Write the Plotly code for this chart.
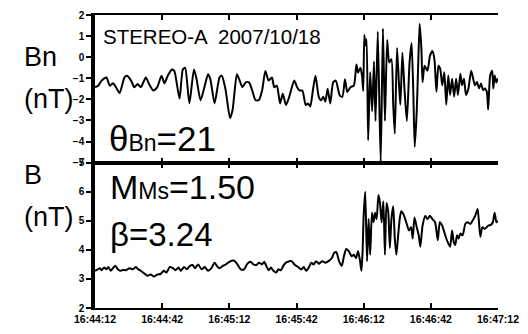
import pandas as pd
import plotly.graph_objects as go

# STEREO-A magnetometer, 2007-10-18, seconds after 16:44:12
t_bn = [0, 1.46, 2.93, 5.12, 6.59, 8.05, 9.07, 10.98, 13.17, 14.34, 16.1, 17.56, 19.03, 20.49,
        22.68, 24.15, 26.05, 27.8, 29.71, 31.03, 32.49, 34.39, 35.42, 37.76, 39.22, 40.25, 42.15,
        44.2, 45.37, 47.12, 49.03, 50.49, 51.51, 53.42, 55.61, 56.64, 58.25, 60.3, 61.45, 63.36,
        64.38, 65.85, 67.3, 68.77, 70.24, 71.7, 73.16, 74.63, 76.09, 77.55, 79.02, 80.04, 81.21,
        82.68, 83.85, 85.31, 86.77, 88.97, 90.28, 91.45, 92.63, 94.09, 95.12, 96.14, 97.31, 98.48,
        99.94, 100.97, 101.99, 102.87, 103.9, 105.07, 106.38, 107.56, 109.31, 110.48, 111.65,
        112.68, 114.14, 115.6, 116.77, 117.5, 118.53, 119.3, 119.8, 120.3, 120.8, 121.3, 122.0,
        122.9, 123.8, 124.6, 125.3, 126.3, 127.6, 128.6, 129.5, 130.5, 131.4, 132.4, 133.2,
        133.9, 134.9, 135.8, 136.4, 137.3, 138.3, 139.3, 140.5, 141.4, 142.2, 142.8, 143.7,
        144.3, 145.0, 145.8, 146.3, 147.2, 148.5, 149.6, 150.7, 151.6, 152.5, 153.4, 154.2,
        155.1, 156.0, 156.9, 157.8, 158.6, 159.5, 160.4, 161.3, 162.1, 163.2, 163.9, 164.8,
        165.7, 166.8, 168.0, 168.9, 169.7, 170.6, 171.5, 172.4, 173.3, 174.1, 175.0, 175.6,
        176.5, 177.4, 177.9, 178.5, 179.3, 180.0]
bn = [-1.42, -1.35, -1.11, -0.96, -1.35, -1.24, -1.37, -1.70, -0.96, -0.88, -1.11, -1.42, -1.27,
      -1.42, -0.96, -1.27, -1.58, -1.42, -0.88, -1.24, -0.88, -0.58, -0.65, -1.96, -0.58, -0.50,
      -2.19, -0.58, -1.04, -2.04, -1.35, -0.81, -1.04, -2.19, -0.96, -0.88, -1.50, -2.88, -2.50,
      -0.81, -1.04, -1.42, -1.19, -1.19, -1.58, -2.04, -2.04, -1.58, -0.65, -1.11, -0.96, -1.42,
      -1.35, -2.19, -1.73, -2.27, -1.88, -1.11, -1.42, -1.58, -1.58, -2.27, -2.19, -2.34, -1.58,
      -0.88, -1.88, -2.04, -1.88, -2.11, -1.50, -2.19, -1.19, -1.11, -1.81, -1.88, -1.04, -1.65,
      -1.42, -1.35, -0.35, -0.73, -0.50, -0.90, -1.60, 1.05, 0.55, 0.85, -3.94, -0.71, -2.56,
      -0.20, -3.02, 1.21, -5.00, 1.36, -3.02, 0.82, -0.25, -0.10, -2.25, -3.63, 0.44, -1.33,
      -2.25, 0.21, -1.64, -3.02, -0.25, 0.67, -1.79, -4.25, -2.56, -0.56, 1.59, 0.36, -1.18,
      -0.41, -0.64, 0.06, 0.29, -0.10, -1.64, -0.41, -0.56, -1.33, -0.71, -2.25, -0.87, -1.79,
      -1.02, -1.87, -1.02, -1.79, -0.79, -1.33, -1.02, -1.79, -1.48, -0.64, -1.02, -1.33, -1.18,
      -1.48, -1.25, -1.56, -1.48, -1.64, -2.48, -0.87, -0.64, -1.48, -0.87, -1.20, -1.00]

t_b = [0, 1.2, 2.2, 2.9, 4.1, 5.1, 5.9, 7.0, 8.0, 9.1, 10.2, 11.4, 12.4, 13.9, 15.4, 16.8, 18.3,
       19.3, 20.5, 22.0, 23.4, 24.9, 26.3, 27.8, 29.3, 30.7, 31.9, 33.4, 34.8, 35.9, 37.3, 38.3,
       39.8, 41.0, 42.4, 43.6, 44.6, 46.1, 47.6, 49.0, 50.5, 52.0, 53.4, 54.4, 55.6, 57.1, 58.5,
       60.0, 62.2, 63.6, 65.1, 66.6, 68.0, 69.5, 70.7, 72.1, 73.2, 74.6, 75.6, 76.5, 77.6, 78.6,
       79.7, 80.9, 81.9, 83.0, 84.1, 85.3, 86.8, 87.8, 89.3, 90.7, 92.2, 93.2, 94.4, 95.6, 96.6,
       97.6, 98.8, 100.0, 101.4, 102.9, 104.3, 105.8, 106.8, 107.8, 109.0, 110.2, 111.2, 112.2,
       113.4, 114.6, 115.6, 116.6, 117.5, 118.4, 119.0, 119.5, 120.0, 120.7, 121.5, 122.2, 122.9,
       123.7, 124.4, 125.1, 125.8, 126.6, 127.3, 128.0, 128.8, 129.5, 130.2, 131.0, 131.7, 132.4,
       133.2, 133.9, 134.6, 135.4, 136.1, 136.8, 137.8, 139.0, 140.2, 141.2, 141.9, 142.7, 143.7,
       144.6, 145.3, 146.3, 147.5, 148.5, 149.6, 150.7, 151.9, 153.1, 154.0, 155.1, 156.0, 156.9,
       157.8, 158.6, 159.5, 160.2, 160.9, 161.7, 162.4, 163.2, 164.2, 165.4, 166.5, 167.6, 168.6,
       169.8, 170.9, 172.1, 173.0, 174.1, 175.6, 176.8, 177.7, 178.5, 179.3, 180.0]
b = [3.28, 3.33, 3.37, 3.30, 3.39, 3.33, 3.41, 3.28, 3.37, 3.45, 3.33, 3.28, 3.31, 3.30, 3.37,
     3.33, 3.41, 3.33, 3.28, 3.19, 3.11, 3.15, 3.08, 3.15, 3.17, 3.28, 3.22, 3.41, 3.37, 3.30,
     3.39, 3.28, 3.41, 3.33, 3.45, 3.48, 3.37, 3.50, 3.33, 3.41, 3.28, 3.37, 3.56, 3.45, 3.37,
     3.45, 3.50, 3.59, 3.63, 3.50, 3.33, 3.33, 3.52, 3.59, 3.50, 3.48, 3.56, 3.50, 3.59, 3.45,
     3.30, 3.39, 3.28, 3.22, 3.33, 3.30, 3.45, 3.56, 3.61, 3.61, 3.48, 3.41, 3.33, 3.41, 3.28,
     3.41, 3.56, 3.50, 3.61, 3.52, 3.61, 3.56, 3.61, 3.72, 3.89, 3.92, 3.61, 3.45, 3.78, 4.03,
     3.95, 3.78, 3.83, 3.72, 3.95, 3.61, 3.28, 3.90, 5.20, 6.00, 3.61, 5.06, 3.83, 5.28, 4.95,
     5.28, 5.06, 5.89, 5.61, 4.95, 5.67, 3.83, 5.61, 5.28, 4.06, 5.06, 5.50, 4.39, 3.83, 4.50,
     5.06, 5.33, 5.22, 4.95, 4.67, 4.78, 4.39, 5.11, 4.78, 4.50, 4.11, 4.83, 5.17, 5.06, 5.17,
     5.06, 4.95, 4.33, 4.95, 4.83, 4.61, 4.39, 4.22, 4.11, 4.67, 4.28, 4.17, 4.50, 4.39, 4.56,
     4.50, 4.89, 4.95, 4.89, 5.00, 5.17, 5.41, 4.45, 4.78, 4.72, 4.83, 4.86, 4.95, 5.28, 4.95,
     5.00]

start = pd.Timestamp("2007-10-18 16:44:12")
end = start + pd.Timedelta(seconds=180)
x_bn = start + pd.to_timedelta(t_bn, unit="s")
x_b = start + pd.to_timedelta(t_b, unit="s")

sans = "Liberation Sans"
ytickfont = dict(family=sans, size=10, color="black", weight="bold")
xtickfont = dict(family=sans, size=10.5, color="black", weight="bold")

fig = go.Figure()
line = dict(color="black", width=2, shape="spline", smoothing=0.6)
fig.add_trace(go.Scatter(x=x_bn, y=bn, mode="lines", line=line, xaxis="x2", yaxis="y2"))
fig.add_trace(go.Scatter(x=x_b, y=b, mode="lines", line=line, xaxis="x", yaxis="y"))

split = 0.496
xcommon = dict(type="date", range=[start, end], dtick=30000, tick0=start,
               ticks="inside", ticklen=5, tickwidth=1.5, tickcolor="black",
               showline=True, linewidth=2, linecolor="black", mirror="ticks",
               showgrid=False, zeroline=False)
ycommon = dict(ticks="outside", ticklen=5, tickwidth=1.5, tickcolor="black", dtick=1,
               showline=True, linewidth=3.5, linecolor="black", showgrid=False,
               zeroline=False, tickfont=ytickfont)
yright = dict(side="right", ticks="inside", ticklen=5, tickwidth=1.5, tickcolor="black",
              dtick=1, showline=True, linewidth=3.5, linecolor="black", showgrid=False,
              zeroline=False, showticklabels=False)

fig.update_layout(
    width=528, height=334,
    margin=dict(l=95, r=23, t=9, b=22, pad=0),
    paper_bgcolor="white", plot_bgcolor="white",
    showlegend=False,
    xaxis=dict(**xcommon, anchor="y", tickformat="%H:%M:%S", tickfont=xtickfont),
    xaxis2=dict(**xcommon, anchor="y2", matches="x", showticklabels=False),
    yaxis=dict(**ycommon, domain=[0, split], range=[2, 7], anchor="x"),
    yaxis2=dict(**ycommon, domain=[split, 1], range=[-5, 2], anchor="x2"),
    yaxis3=dict(**yright, overlaying="y", range=[2, 7], anchor="x"),
    yaxis4=dict(**yright, overlaying="y2", range=[-5, 2], anchor="x2"),
)

def note(text, x, y, size):
    fig.add_annotation(text=text, x=x, y=y, xref="paper", yref="paper", showarrow=False,
                       xanchor="left", yanchor="middle",
                       font=dict(family=sans, size=size, color="black"))

note("Bn", -0.18, 0.857, 27)
note("(nT)", -0.18, 0.712, 27)
note("B", -0.18, 0.455, 27)
note("(nT)", -0.18, 0.31, 27)
note("STEREO-A  2007/10/18", 0.016, 0.927, 20.5)
note("θ<span style='font-size:23px'>Bn</span>=21", 0.030, 0.578, 35)
note("M<span style='font-size:23px'>Ms</span>=1.50", 0.033, 0.414, 34)
note("β=3.24", 0.033, 0.25, 33)

fig.write_html("out.html")
